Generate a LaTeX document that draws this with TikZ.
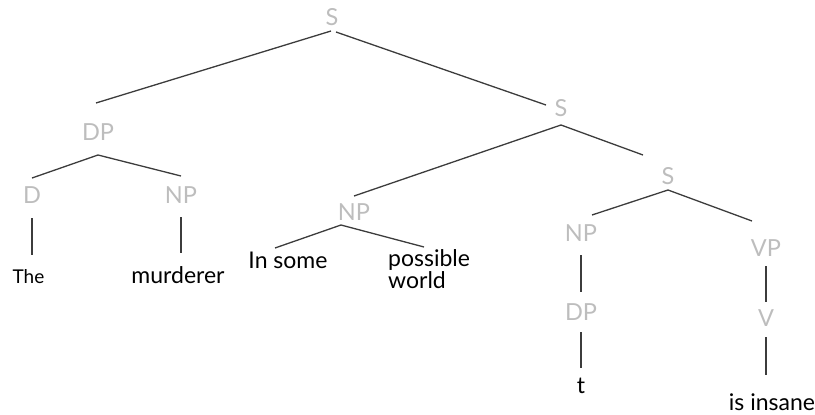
\documentclass[tikz,border=0pt]{standalone}
\usepackage{fontspec}
\setmainfont{Lato}
\definecolor{lab}{HTML}{BDBDBD}
\definecolor{edge}{HTML}{3C3C3C}
\begin{document}
\begin{tikzpicture}[x=1pt,y=-1pt,
  cat/.style={text=lab,font=\fontsize{23.5}{24}\selectfont,inner sep=0pt},
  word/.style={text=black,font=\fontsize{23}{20}\selectfont,inner sep=0pt},
  br/.style={draw=edge,line width=1.3pt}]
\useasboundingbox (0,0) rectangle (815,415);
% categories
\node[cat] (S1) at (332,17) {S};
\node[cat] (DP) at (98,132) {DP};
\node[cat] (S2) at (561,108) {S};
\node[cat] (D) at (32,195) {D};
\node[cat] (NPa) at (181,195) {NP};
\node[cat] (NPb) at (354,212) {NP};
\node[cat] (S3) at (668,176) {S};
\node[cat] (NPc) at (581,233) {NP};
\node[cat] (VP) at (766,248) {VP};
\node[cat] (DP2) at (581,312) {DP};
\node[cat] (V) at (766,318) {V};
% words
\node[word,anchor=base,font=\fontsize{19}{20}\selectfont] (The) at (28.5,283) {The};
\node[word,anchor=base] (murd) at (178,283) {murderer};
\node[word,anchor=base] (ins) at (288,268) {In some};
\node[word,anchor=base west,align=left] (pw) at (388,288) {possible\\world};
\node[word,anchor=base] (t) at (581,393) {t};
\node[word,anchor=base] (isi) at (772,410) {is insane};
% edge end points
\coordinate (S1l) at (331,31);  \coordinate (DPt) at (96,103);
\coordinate (S1r) at (336,32);  \coordinate (S2t) at (546,105);
\coordinate (S2b) at (561,125); \coordinate (NPbt) at (354,196);
\coordinate (S3t) at (643,155);
\coordinate (DPb) at (98,155);  \coordinate (Dt) at (32,178);
\coordinate (NPat) at (181,176);
\coordinate (Db) at (32,218);   \coordinate (Thet) at (32,255);
\coordinate (NPab) at (181,217); \coordinate (murdt) at (181,253);
\coordinate (NPbb) at (341,225); \coordinate (inst) at (275,248);
\coordinate (pwt) at (424,247);
\coordinate (S3b) at (668,190); \coordinate (NPct) at (592,215);
\coordinate (VPt) at (752,221);
\coordinate (NPcb) at (581,255); \coordinate (DP2t) at (581,292);
\coordinate (DP2b) at (581,332); \coordinate (tt) at (581,368);
\coordinate (VPb) at (766,266); \coordinate (Vt) at (766,302);
\coordinate (Vb) at (766,337); \coordinate (isit) at (766,375);
% edges
\draw[br] (S1l) -- (DPt);
\draw[br] (S1r) -- (S2t);
\draw[br] (S2b) -- (NPbt);
\draw[br] (S2b) -- (S3t);
\draw[br] (DPb) -- (Dt);
\draw[br] (DPb) -- (NPat);
\draw[br] (Db) -- (Thet);
\draw[br] (NPab) -- (murdt);
\draw[br] (NPbb) -- (inst);
\draw[br] (NPbb) -- (pwt);
\draw[br] (S3b) -- (NPct);
\draw[br] (S3b) -- (VPt);
\draw[br] (NPcb) -- (DP2t);
\draw[br] (DP2b) -- (tt);
\draw[br] (VPb) -- (Vt);
\draw[br] (Vb) -- (isit);
\end{tikzpicture}
\end{document}
